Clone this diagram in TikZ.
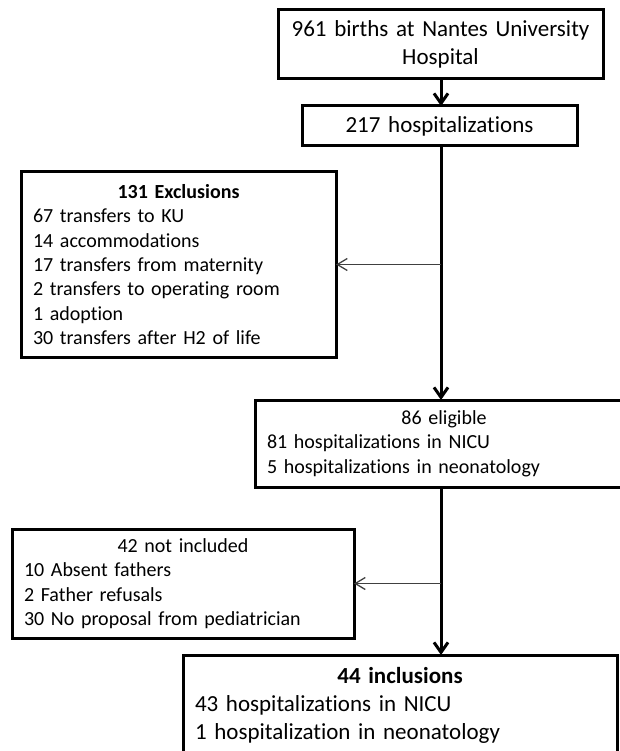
\documentclass[tikz,border=0pt]{standalone}
\usepackage{fontspec}
\setmainfont{Carlito}[Ligatures=NoCommon]
\usetikzlibrary{arrows.meta,positioning}

\tikzset{
    box/.style={draw,rectangle,line width=3pt,anchor=north west,outer sep=0pt,inner xsep=12pt,inner ysep=0pt},
    big/.style={font=\fontsize{23}{28}\selectfont},
    small/.style={font=\fontsize{20}{24.4}\selectfont},
    arr/.style={line width=3pt,-{Straight Barb[length=10pt,width=14pt]}},
    sidearr/.style={line width=1.3pt,black!75,-{Straight Barb[length=10pt,width=12pt]}}
}

\begin{document}
\begin{tikzpicture}[x=1pt,y=-1pt]
    \useasboundingbox (0,0) rectangle (620,751);
    \coordinate (spine) at (441,0);
    % main column
    \node[box,big,text width=301pt,minimum height=69pt,align=center] (births) at (278,10)
        {961 births at Nantes University\\Hospital};
    \node[box,big,text width=251pt,minimum height=40pt,align=center] (hosp) at (302,106)
        {217 hospitalizations};
    \node[box,small,text width=354pt,minimum height=87pt,align=left] (elig) at (255,400)
        {\makebox[\hsize]{86 eligible}\\81 hospitalizations in NICU\\5 hospitalizations in neonatology};
    \node[box,big,text width=410pt,minimum height=100pt,align=left] (incl) at (183,655)
        {\makebox[\hsize]{\textbf{44 inclusions}}\\43 hospitalizations in NICU\\1 hospitalization in neonatology};
    % side boxes
    \node[box,small,text width=291pt,minimum height=185pt,align=left] (excl) at (21,172)
        {\makebox[\hsize]{\textbf{131 Exclusions}}\\67 transfers to KU\\14 accommodations\\17 transfers from maternity\\2 transfers to operating room\\1 adoption\\30 transfers after H2 of life};
    \node[box,small,text width=318pt,minimum height=109pt,align=left] (notinc) at (12,529)
        {\makebox[\hsize]{42 not included}\\10 Absent fathers\\2 Father refusals\\30 No proposal from pediatrician};
    % arrows
    \draw[arr] (spine |- births.south) -- (spine |- hosp.north);
    \draw[arr] (spine |- hosp.south) -- (spine |- elig.north);
    \draw[arr] (spine |- elig.south) -- (spine |- incl.north);
    \draw[sidearr] (spine |- excl.east) -- (excl.east);
    \draw[sidearr] (spine |- notinc.east) -- (notinc.east);
\end{tikzpicture}
\end{document}
